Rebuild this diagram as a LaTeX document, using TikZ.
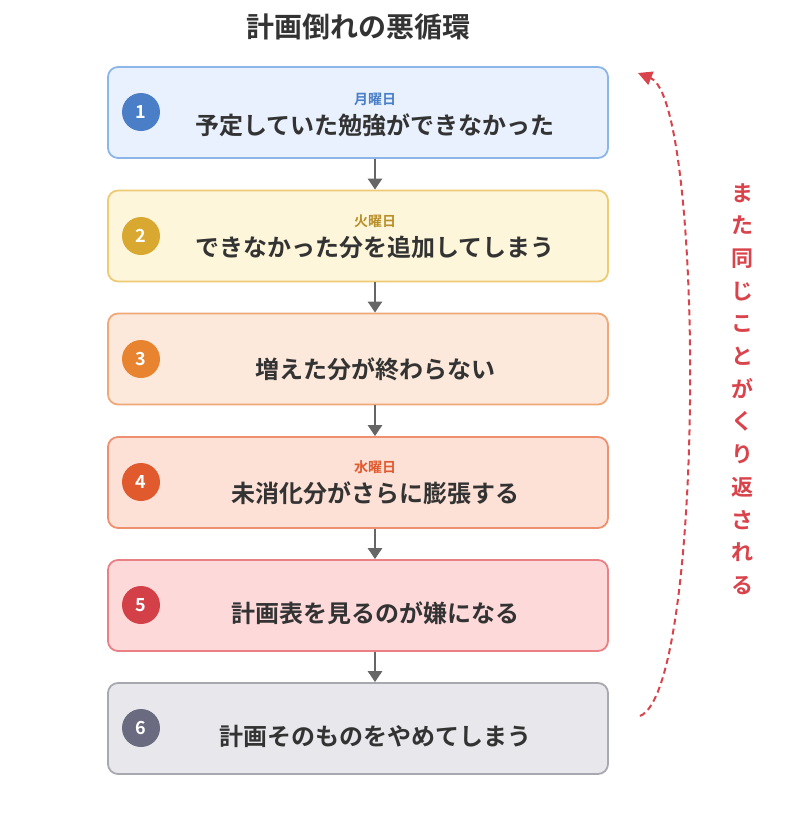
\documentclass[tikz,border=0pt]{standalone}
\usepackage{fontspec}
\setmainfont{Noto Sans CJK JP}[BoldFont={* Bold}]
\usetikzlibrary{arrows.meta}
\definecolor{blueA}{HTML}{4A7FC8}\definecolor{blueF}{HTML}{E8F1FD}\definecolor{blueD}{HTML}{8DB6E8}
\definecolor{goldA}{HTML}{D9A830}\definecolor{goldF}{HTML}{FEF6DA}\definecolor{goldD}{HTML}{EDCB74}
\definecolor{orA}{HTML}{E8832F}\definecolor{orF}{HTML}{FDE9DC}\definecolor{orD}{HTML}{F0A878}
\definecolor{rdoA}{HTML}{E05A2E}\definecolor{rdoF}{HTML}{FDE1D6}\definecolor{rdoD}{HTML}{EE9070}
\definecolor{redA}{HTML}{D44048}\definecolor{redF}{HTML}{FDD9DA}\definecolor{redD}{HTML}{E98085}
\definecolor{grA}{HTML}{6A6A80}\definecolor{grF}{HTML}{E8E8EC}\definecolor{grD}{HTML}{A8A8B0}
\definecolor{loopred}{HTML}{D9434B}
\definecolor{textdark}{HTML}{333333}
\begin{document}
\begin{tikzpicture}[x=1pt,y=-1pt]
    \tikzset{stage/.style={draw, line width=1.8pt, rounded corners=10pt, minimum width=500pt, minimum height=91pt, inner sep=0pt}}
    \tikzset{num/.style={circle, inner sep=0pt, minimum size=38pt, text=white, font=\bfseries\fontsize{18}{18}\selectfont}}
    \tikzset{main/.style={text=textdark, font=\bfseries\fontsize{24}{24}\selectfont}}
    \tikzset{day/.style={font=\bfseries\fontsize{14}{14}\selectfont}}
    \tikzset{flow/.style={-{Triangle[length=11pt,width=14pt]}, line width=2.6pt, draw=black!60}}
    \useasboundingbox (0,0) rectangle (800,833);

    \node[text=textdark, font=\bfseries\fontsize{28}{28}\selectfont] (title) at (358,27) {計画倒れの悪循環};

    \node[stage, fill=blueF, draw=blueD] (s1) at (358,112.5) {};
    \node[stage, fill=goldF, draw=goldD] (s2) at (358,236) {};
    \node[stage, fill=orF, draw=orD] (s3) at (358,359) {};
    \node[stage, fill=rdoF, draw=rdoD] (s4) at (358,482.5) {};
    \node[stage, fill=redF, draw=redD] (s5) at (358,605.5) {};
    \node[stage, fill=grF, draw=grD] (s6) at (358,728.5) {};

    \node[num, fill=blueA] (n1) at (141,112) {1};
    \node[num, fill=goldA] (n2) at (141,236) {2};
    \node[num, fill=orA] (n3) at (141,359) {3};
    \node[num, fill=rdoA] (n4) at (141,482) {4};
    \node[num, fill=redA] (n5) at (141,605) {5};
    \node[num, fill=grA] (n6) at (141,728) {6};

    \node[day, text=blueA] (d1) at (375,99) {月曜日};
    \node[main] (t1) at (375,125) {予定していた勉強ができなかった};
    \node[day, text=goldA!85!black] (d2) at (375,221) {火曜日};
    \node[main] (t2) at (375,247) {できなかった分を追加してしまう};
    \node[main] (t3) at (375,369) {増えた分が終わらない};
    \node[day, text=rdoA] (d4) at (375,467) {水曜日};
    \node[main] (t4) at (375,493) {未消化分がさらに膨張する};
    \node[main] (t5) at (375,613) {計画表を見るのが嫌になる};
    \node[main] (t6) at (375,736) {計画そのものをやめてしまう};

    \draw[flow] (s1.south -| 375,0) -- (s2.north -| 375,0);
    \draw[flow] (s2.south -| 375,0) -- (s3.north -| 375,0);
    \draw[flow] (s3.south -| 375,0) -- (s4.north -| 375,0);
    \draw[flow] (s4.south -| 375,0) -- (s5.north -| 375,0);
    \draw[flow] (s5.south -| 375,0) -- (s6.north -| 375,0);

    % loop back
    \coordinate (lstart) at (640,716);
    \coordinate (lend) at (638,73);
    \draw[loopred, line width=2pt, dash pattern=on 6pt off 4pt, -{Triangle[length=14pt,width=14pt]}]
        (lstart) .. controls (705,690) and (705,100) .. (lend);
    \node[text=loopred, font=\bfseries\fontsize{22}{32.7}\selectfont, align=center] (again) at (742,389)
        {ま\\た\\同\\じ\\こ\\と\\が\\く\\り\\返\\さ\\れ\\る};
\end{tikzpicture}
\end{document}
